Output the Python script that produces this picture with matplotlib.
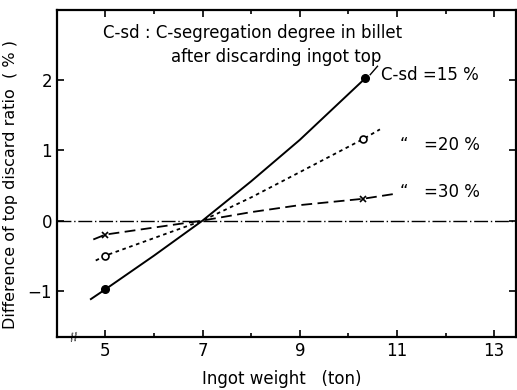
import numpy as np
import matplotlib.pyplot as plt

# values
w15 = [4.7, 5.0, 6.0, 7.0, 8.0, 9.0, 10.35]
d15 = [-1.12, -0.98, -0.5, 0.0, 0.56, 1.15, 2.03]
w20 = [4.8, 5.0, 6.0, 7.0, 8.0, 9.0, 10.3, 10.65]
d20 = [-0.57, -0.5, -0.25, 0.0, 0.33, 0.69, 1.16, 1.3]
w30 = [4.75, 5.0, 6.0, 7.0, 8.0, 9.0, 10.3, 10.95]
d30 = [-0.27, -0.2, -0.1, 0.0, 0.12, 0.22, 0.31, 0.38]

xticks = [5, 7, 9, 11, 13]
yticks = [-1, 0, 1, 2]

fig = plt.figure(figsize=(5.17, 3.9), dpi=100)
ax = fig.add_axes([0.110, 0.136, 0.888, 0.838])

ax.axhline(0, color='black', lw=1.0, ls=(0, (10, 2, 1, 2)))

ax.plot(w15, d15, color='black', lw=1.4, ls='-')
ax.plot(w20, d20, color='black', lw=1.3, ls=(0, (2, 2)))
ax.plot(w30, d30, color='black', lw=1.3, ls=(0, (6, 3)))

ax.plot([w15[1], w15[-1]], [d15[1], d15[-1]], 'o', color='black', ms=5.5, ls='none')
ax.plot([w20[1], w20[-2]], [d20[1], d20[-2]], 'o', mfc='white', mec='black', ms=5, mew=1.2, ls='none')
ax.plot([w30[1], w30[-2]], [d30[1], d30[-2]], 'x', color='black', ms=5, mew=1.2, ls='none')

# small leader from the 15 % end point to its label
ax.plot([10.45, 10.6], [2.08, 2.2], color='black', lw=1.0)

ax.set_xlim(4.0, 13.45)
ax.set_ylim(-1.66, 3.0)
ax.set_xticks(xticks)
ax.set_yticks(yticks)
ax.set_xticks(np.arange(5, 14, 1), minor=True)
ax.tick_params(direction='in', which='both', top=True, right=True, labelsize=12, width=1.2)
ax.tick_params(which='major', length=5)
ax.tick_params(which='minor', length=3)
for s in ax.spines.values():
    s.set_linewidth(1.6)

ax.set_xlabel('Ingot weight   (ton)', fontsize=12)
ax.set_ylabel('Difference of top discard ratio  ( % )', fontsize=11.5)
ax.xaxis.set_label_coords(0.49, -0.1)
ax.yaxis.set_label_coords(-0.085, 0.465)

ax.text(4.95, 2.68, 'C-sd : C-segregation degree in billet', fontsize=12, va='center')
ax.text(6.35, 2.33, 'after discarding ingot top', fontsize=12, va='center')
ax.text(10.68, 2.07, 'C-sd =15 %', fontsize=12, va='center')
ax.text(11.05, 1.08, '“', fontsize=12, va='center')
ax.text(11.55, 1.08, '=20 %', fontsize=12, va='center')
ax.text(11.05, 0.41, '“', fontsize=12, va='center')
ax.text(11.55, 0.41, '=30 %', fontsize=12, va='center')

# axis break mark near the origin
ax.text(4.35, -1.66, '//', fontsize=8, ha='center', va='center', rotation=10)

fig.savefig('out.png', dpi=100)
